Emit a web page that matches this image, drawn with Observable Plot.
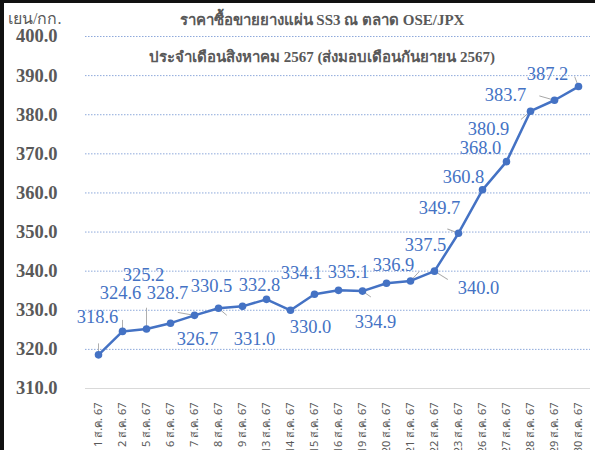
<!DOCTYPE html>
<html>
<head>
<meta charset="utf-8">
<script src="https://cdn.jsdelivr.net/npm/d3@7"></script>
<script src="https://cdn.jsdelivr.net/npm/@observablehq/plot@0.6"></script>
<style>
  html, body { margin: 0; padding: 0; background: #fff; }
  #wrap { position: relative; width: 595px; height: 450px; overflow: hidden; background: #fff; }
  #wrap svg { position: absolute; left: 0; top: 0; }
  .frameTop { position: absolute; left: 0; top: 0; width: 595px; height: 3px; background: #111; }
  .frameLeft { position: absolute; left: 0; top: 0; width: 4px; height: 450px; background: #111; }
  .title { position: absolute; left: 0; width: 644px; text-align: center; font-family: "Liberation Serif", "Times New Roman", serif; font-weight: bold; font-size: 15px; color: #595959; white-space: nowrap; }
  .unit { position: absolute; left: 8px; top: 6px; font-family: "Liberation Serif", "Times New Roman", serif; font-size: 16px; color: #595959; white-space: nowrap; }
</style>
</head>
<body>
<div id="wrap"></div>
<script>
const dates = ["1 ส.ค. 67","2 ส.ค. 67","5 ส.ค. 67","6 ส.ค. 67","7 ส.ค. 67","8 ส.ค. 67","9 ส.ค. 67","13 ส.ค. 67","14 ส.ค. 67","15 ส.ค. 67","16 ส.ค. 67","19 ส.ค. 67","20 ส.ค. 67","21 ส.ค. 67","22 ส.ค. 67","23 ส.ค. 67","26 ส.ค. 67","27 ส.ค. 67","28 ส.ค. 67","29 ส.ค. 67","30 ส.ค. 67"];
const prices = [318.6,324.6,325.2,326.7,328.7,330.5,331.0,332.8,330.0,334.1,335.1,334.9,336.9,337.5,340.0,349.7,360.8,368.0,380.9,383.7,387.2];
const yTicks = [310,320,330,340,350,360,370,380,390,400];
const titleLine1 = "ราคาซื้อขายยางแผ่น SS3 ณ ตลาด OSE/JPX";
const titleLine2 = "ประจำเดือนสิงหาคม 2567 (ส่งมอบเดือนกันยายน 2567)";
const unitLabel = "เยน/กก.";

// label placement offsets (style only): [dx, dy]
const labelOffsets = [[-1,-38],[-2,-38],[-3,-54],[27,16],[-27,-22],[-7,-22],[12,33],[-7,-14],[20,17],[-13,-21],[10,-18],[13,31],[7,-18],[15,-36],[44,17],[-19,-25],[-19,-13],[-26,-14],[-42,18],[-49,-5],[-31,-12]];
// leader lines (style only): [rotate deg, length px] or null
const leaders = [[0,18],[0,18],[0,34],null,[-80,27],[130,17],null,null,null,null,null,[125,16],null,[43,20],[122,25],[-69,19],null,null,[-131,20],[-74,25],[-21,17]];

const rows = dates.map((d, i) => ({date: d, price: prices[i]}));
const leaderRows = rows.map((r, i) => leaders[i] ? {...r, rot: leaders[i][0], len: leaders[i][1]} : null).filter(Boolean);

const blue = "#4472C4";
const serif = "'Liberation Serif', 'Times New Roman', serif";

const labelMarks = rows.map((r, i) => Plot.text([r], {
  x: "date", y: "price", text: d => d.price.toFixed(1),
  dx: labelOffsets[i][0], dy: labelOffsets[i][1],
  fill: blue, fontSize: 18.5, fontFamily: serif
}));

const chart = Plot.plot({
  width: 595,
  height: 450,
  marginTop: 36,
  marginBottom: 62,
  marginLeft: 85,
  marginRight: 5,
  style: {background: "transparent", overflow: "visible"},
  x: {type: "point", domain: dates, padding: 0.5},
  y: {domain: [310, 400]},
  marks: [
    Plot.ruleY(yTicks.filter(t => t > 310), {stroke: "#8EA9DB", strokeWidth: 1, strokeDasharray: "1.5,1.5"}),
    Plot.ruleY([310], {stroke: "#D9D9D9", strokeWidth: 1.2}),
    Plot.axisY({ticks: yTicks, tickFormat: d => d.toFixed(1), tickSize: 0, tickPadding: 28,
      fontFamily: serif, fontWeight: "bold", fontSize: 18.5, fill: "#595959", label: null}),
    Plot.axisX({tickSize: 0, tickPadding: 14, tickRotate: -90, fontSize: 11,
      fontFamily: "'Noto Sans', 'Liberation Sans', sans-serif", fill: "#595959", label: null}),
    Plot.vector(leaderRows, {x: "date", y: "price", rotate: "rot", length: "len", anchor: "start",
      shape: {draw(ctx, l) { ctx.moveTo(0, 0); ctx.lineTo(0, -l); }},
      stroke: "#A6A6A6", strokeWidth: 0.9}),
    Plot.line(rows, {x: "date", y: "price", stroke: blue, strokeWidth: 2.5}),
    Plot.dot(rows, {x: "date", y: "price", r: 3.8, fill: blue}),
    ...labelMarks
  ]
});

const wrap = document.getElementById("wrap");
wrap.appendChild(chart);
const t1 = document.createElement("div"); t1.className = "title"; t1.style.top = "8px"; t1.textContent = titleLine1; wrap.appendChild(t1);
const t2 = document.createElement("div"); t2.className = "title"; t2.style.top = "45px"; t2.textContent = titleLine2; wrap.appendChild(t2);
const u = document.createElement("div"); u.className = "unit"; u.textContent = unitLabel; wrap.appendChild(u);
const f1 = document.createElement("div"); f1.className = "frameTop"; wrap.appendChild(f1);
const f2 = document.createElement("div"); f2.className = "frameLeft"; wrap.appendChild(f2);
</script>
</body>
</html>
